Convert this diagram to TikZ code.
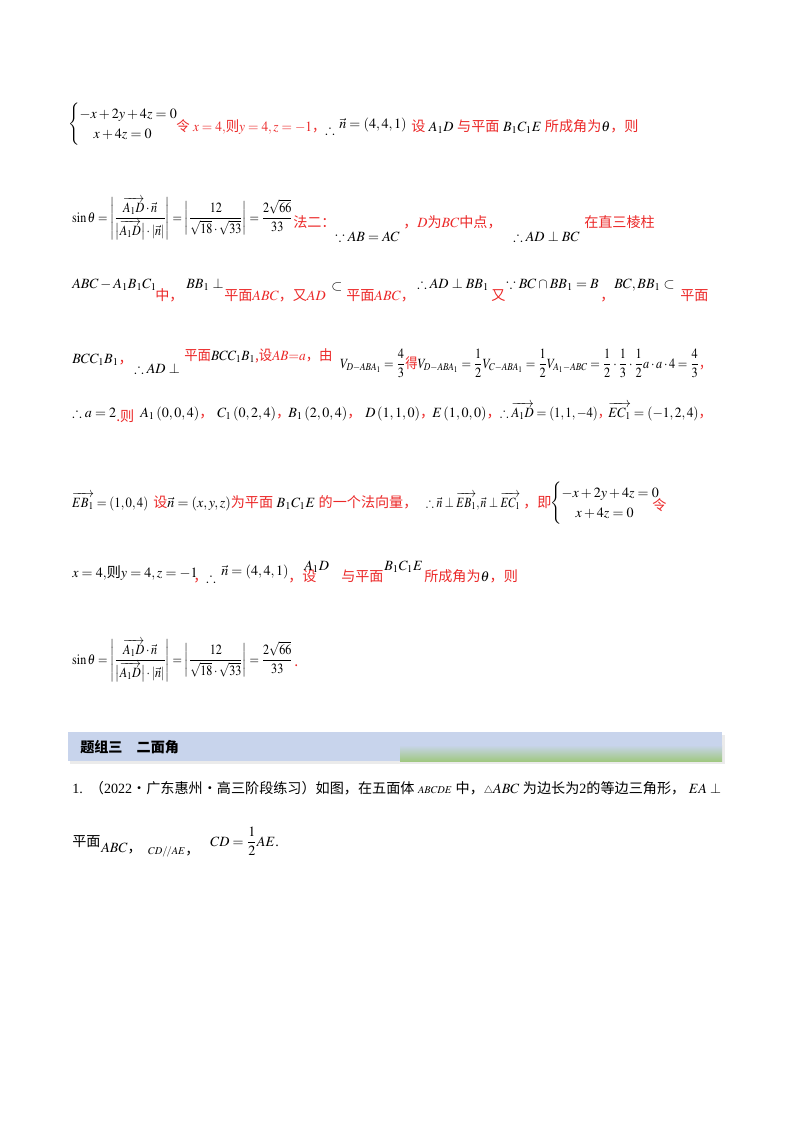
\documentclass[tikz,border=0pt]{standalone}
\usepackage{amsmath,amssymb}
\usepackage{mathptmx}
\usepackage{fontspec}
\setmainfont{Liberation Serif}
\newfontfamily\cjk{Noto Sans CJK SC}
\definecolor{rd}{RGB}{235,40,40}
\definecolor{hdr}{RGB}{200,212,236}
\definecolor{grn}{RGB}{160,200,130}
\newcommand{\R}[1]{{\color{rd}\cjk #1}}
\newcommand{\Rm}[1]{{\color{rd}#1}}
\newcommand{\vv}[1]{\overrightarrow{#1}}
\begin{document}
\begin{tikzpicture}[x=0.744pt,y=-0.744pt,
  T/.style={anchor=base west,inner sep=0pt,font=\fontsize{10.5}{12}\selectfont},
  S/.style={T,xscale=#1,transform shape}]
\useasboundingbox (0,0) rectangle (800,1132);
% line 1
\node[T] (s1) at (68,128) {$\begin{cases}-x+2y+4z=0\\ \quad x+4z=0\end{cases}$};
\node[S=0.95] (l1a) at (176,131) {\R{令} $\Rm{x=4,}$\R{则}$\Rm{y=4,z=-1}$\R{，}};
\node[T] (l1b) at (325,134) {$\therefore$};
\node[T] (l1c) at (339,128) {$\vec n=\left(4,4,1\right)$};
\node[T] (l1d) at (411,131) {\R{设} $A_1D$ \R{与平面} $B_1C_1E$ \R{所成角为}$\theta$\R{，则}};
% line 2
\node[S=0.86] (l2a) at (72,222) {$\sin\theta=\left|\dfrac{\vv{A_1D}\cdot\vec n}{\bigl|\vv{A_1D}\bigr|\cdot|\vec n|}\right|=\left|\dfrac{12}{\sqrt{18}\cdot\sqrt{33}}\right|=\dfrac{2\sqrt{66}}{33}$};
\node[T] (l2b) at (293,227) {\R{法二：}};
\node[T] (l2c) at (335,241) {$\because AB=AC$};
\node[T] (l2d) at (403,227) {\R{，}$\Rm{D}$\R{为}$\Rm{BC}$\R{中点，}};
\node[T] (l2e) at (513,241) {$\therefore AD\perp BC$};
\node[T] (l2f) at (584,227) {\R{在直三棱柱}};
% line 3
\node[T] (l3a) at (72,288) {$ABC-A_1B_1C_1$};
\node[T] (l3b) at (155,300) {\R{中，}};
\node[T] (l3c) at (186,288) {$BB_1\perp$};
\node[T] (l3d) at (224,300) {\R{平面}$\Rm{ABC}$\R{，又}$\Rm{AD}$};
\node[T] (l3e) at (331,290) {$\subset$};
\node[T] (l3f) at (346,300) {\R{平面}$\Rm{ABC}$\R{，}};
\node[T] (l3g) at (417,288) {$\therefore AD\perp BB_1$};
\node[T] (l3h) at (491,300) {\R{又}};
\node[T] (l3i) at (506,288) {$\because BC\cap BB_1=B$};
\node[T] (l3j) at (600,300) {\R{，}};
\node[T] (l3k) at (614,288) {$BC,BB_1\subset$};
\node[T] (l3l) at (680,300) {\R{平面}};
% line 4
\node[T] (l4a) at (72,363) {$BCC_1B_1$\R{，}};
\node[T] (l4b) at (134,373) {$\therefore AD\perp$};
\node[S=0.95] (l4c) at (184,360) {\R{平面}$BCC_1B_1$\R{,设}$\Rm{AB{=}a}$\R{，由}};
\node[S=0.87] (l4d) at (340,368) {$V_{D-ABA_1}=\dfrac43$\R{得}$V_{D-ABA_1}=\dfrac12V_{C-ABA_1}=\dfrac12V_{A_1-ABC}=\dfrac12\cdot\dfrac13\cdot\dfrac12a\cdot a\cdot4=\dfrac43$\R{，}};
% line 5
\node[T] (l5a) at (72,417) {$\therefore a=2$};
\node[T] (l5b) at (116,421) {\R{.则}};
\node[T] (l5c) at (140,417) {$A_1\left(0,0,4\right)$\R{，}};
\node[T] (l5d) at (217,417) {$C_1\left(0,2,4\right)$\R{，}};
\node[T] (l5e) at (288,417) {$B_1\left(2,0,4\right)$\R{，}};
\node[T] (l5f) at (365,417) {$D\left(1,1,0\right)$\R{，}};
\node[T] (l5g) at (432,417) {$E\left(1,0,0\right)$\R{，}};
\node[S=0.9] (l5h) at (500,417) {$\therefore\vv{A_1D}=\left(1,1,-4\right)$\R{，}};
\node[S=0.95] (l5i) at (608,417) {$\vv{EC_1}=\left(-1,2,4\right)$\R{，}};
% line 6
\node[S=0.9] (l6a) at (72,507) {$\vv{EB_1}=\left(1,0,4\right)$};
\node[T] (l6b) at (153,507) {\R{设}$\vec n=(x,y,z)$\R{为平面} $B_1C_1E$ \R{的一个法向量，}};
\node[S=0.82] (l6c) at (426,507) {$\therefore\vec n\perp\vv{EB_1},\vec n\perp\vv{EC_1}$};
\node[T] (l6d) at (523,507) {\R{，即}};
\node[T] (l6e) at (550,507) {$\begin{cases}-x+2y+4z=0\\ \quad x+4z=0\end{cases}$};
\node[T] (l6f) at (652,510) {\R{令}};
% line 7
\node[T] (l7a) at (72,577) {$x=4,$\cjk 则$y=4,z=-1$};
\node[T] (l7b) at (193,581) {\R{，}};
\node[T] (l7c) at (206,582) {$\therefore$};
\node[T] (l7d) at (221,575) {$\vec n=\left(4,4,1\right)$};
\node[T] (l7e) at (288,581) {\R{，设}};
\node[T] (l7f) at (304,570) {$A_1D$};
\node[T] (l7g) at (341,581) {\R{与平面}};
\node[T] (l7h) at (384,570) {$B_1C_1E$};
\node[T] (l7i) at (424,581) {\R{所成角为}$\theta$\R{，则}};
% line 8
\node[S=0.86] (l8a) at (72,664) {$\sin\theta=\left|\dfrac{\vv{A_1D}\cdot\vec n}{\bigl|\vv{A_1D}\bigr|\cdot|\vec n|}\right|=\left|\dfrac{12}{\sqrt{18}\cdot\sqrt{33}}\right|=\dfrac{2\sqrt{66}}{33}$};
\node[T] (l8b) at (294,666) {\R{.}};
% header
\fill[black!8] (70,735) rectangle (725,764);
\fill[hdr] (68,732) rectangle (722,761);
\shade[top color=hdr, bottom color=grn] (400,745) rectangle (722,761);
\node[T] (h) at (80,752) {\cjk\bfseries 题组三\quad 二面角};
% question
\node[T] (q1) at (72,793) {1.\ \ {\cjk （}2022{\cjk ·广东惠州·高三阶段练习）如图，在五面体} $\scriptstyle ABCDE$ {\cjk 中，}$\scriptstyle\triangle$$ABC$ {\cjk 为边长为}2{\cjk 的等边三角形，} $EA\perp$};
\node[T] (q2) at (72,846) {\cjk 平面};
\node[T] (q3) at (101,852) {$ABC$\cjk ，};
\node[T] (q4) at (148,854) {$\scriptstyle CD/\!/AE$\cjk ，};
\node[T] (q5) at (210,846) {$CD=\dfrac12AE$.};
\end{tikzpicture}
\end{document}
